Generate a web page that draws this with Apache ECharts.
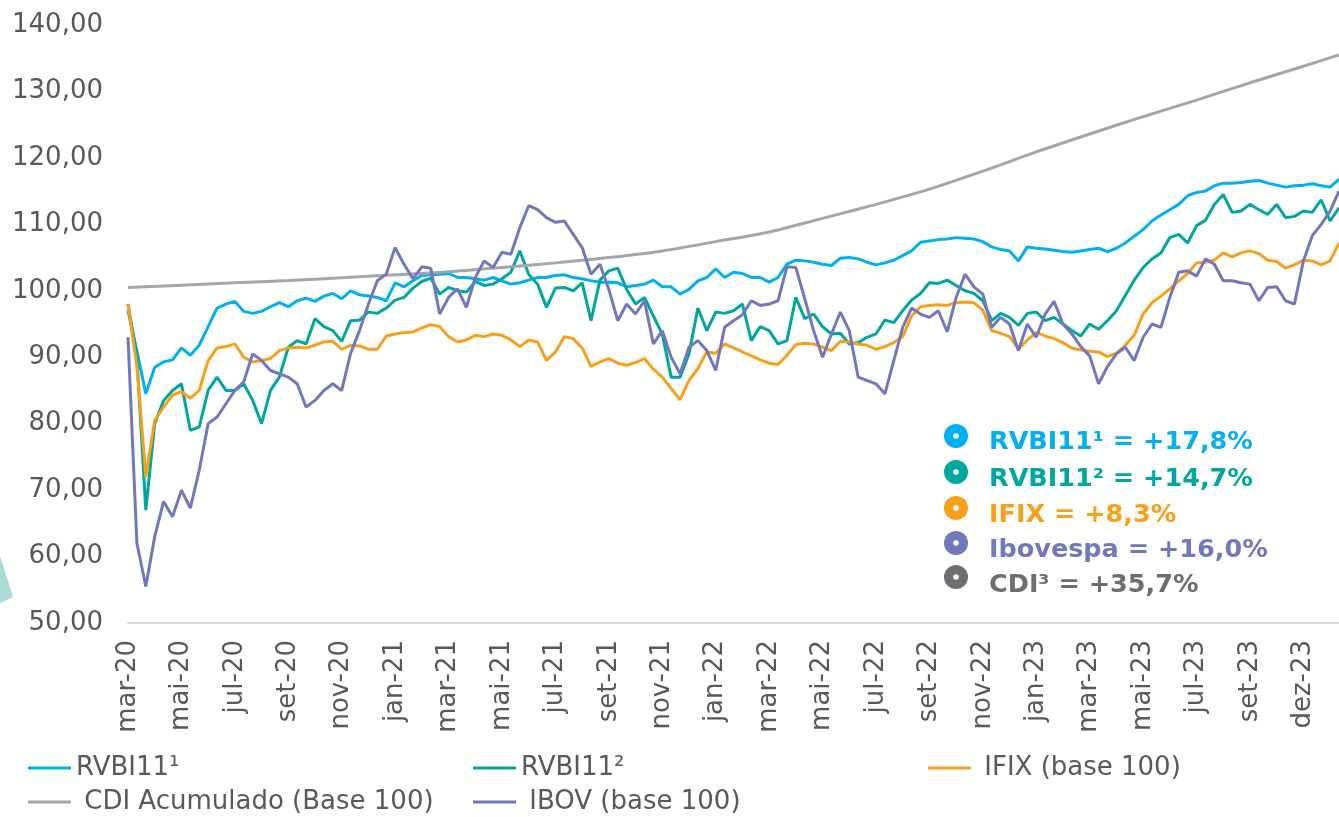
<!DOCTYPE html>
<html>
<head>
<meta charset="utf-8">
<title>RVBI11 x benchmarks</title>
<script src="https://cdn.jsdelivr.net/npm/echarts@6/dist/echarts.min.js"></script>
<style>
  html, body { margin: 0; padding: 0; background: #fff; }
  #chart { width: 1339px; height: 817px; }
</style>
</head>
<body>
<div id="chart"></div>
<script>
// x-axis tick labels, one every 6 points (about 2 months)
const tickLabels = ['mar-20', 'mai-20', 'jul-20', 'set-20', 'nov-20', 'jan-21', 'mar-21', 'mai-21',
  'jul-21', 'set-21', 'nov-21', 'jan-22', 'mar-22', 'mai-22', 'jul-22', 'set-22', 'nov-22',
  'jan-23', 'mar-23', 'mai-23', 'jul-23', 'set-23', 'dez-23']
const perTick = 6

// values, base 100
const rvbi1 = [
  97, 91, 84.5, 88.5, 89.3, 89.6, 91.4, 90.3, 91.8, 94.6,
  97.4, 98, 98.4, 96.9, 96.6, 96.9, 97.6, 98.2, 97.6, 98.5,
  98.9, 98.4, 99.2, 99.6, 98.8, 100, 99.4, 99.2, 99, 98.5,
  101.2, 100.6, 101.5, 102.3, 102.4, 102.5, 102.6, 102, 102, 101.8,
  101.6, 102, 101.5, 101, 101.2, 101.6, 102, 102, 102.3, 102.4,
  102, 101.8, 101.5, 101.3, 101.3, 101.2, 100.6, 100.8, 101, 101.6,
  100.6, 100.6, 99.5, 100.2, 101.5, 102, 103.3, 102, 102.8, 102.6,
  102, 102, 101.3, 102, 104, 104.6, 104.5, 104.3, 104, 103.8,
  104.9, 105, 104.8, 104.3, 103.9, 104.2, 104.6, 105.3, 106, 107.3,
  107.5, 107.7, 107.8, 108, 107.9, 107.8, 107.4, 106.6, 106.2, 106,
  104.5, 106.6, 106.4, 106.3, 106.1, 105.9, 105.8, 106, 106.2, 106.4,
  105.9, 106.4, 107.2, 108.2, 109.2, 110.5, 111.4, 112.2, 113, 114.3,
  114.8, 115, 115.8, 116.2, 116.2, 116.3, 116.5, 116.6, 116.2, 115.9,
  115.6, 115.8, 115.9, 116.1, 115.8, 115.6, 116.8
]
const rvbi2 = [
  98, 90, 67, 80, 83.5, 85, 86, 79, 79.5, 85,
  87, 85, 85, 86, 83.5, 80, 85, 87, 91.5, 92.5,
  92, 95.8, 94.6, 94, 92.4, 95.5, 95.6, 96.8, 96.6, 97.4,
  98.6, 99, 100.4, 101.4, 101.9, 99.5, 100.5, 100, 99.8, 101.4,
  100.8, 101, 101.8, 102.8, 106, 102.5, 101, 97.5, 100.4, 100.5,
  100, 101.2, 95.5, 101.6, 103, 103.4, 100.2, 98, 99, 96.2,
  93.5, 87, 87, 90.5, 97.4, 94, 96.8, 96.6, 97, 98,
  92.5, 94.6, 94, 92, 92.5, 99, 95.8, 96.5, 94.6, 93.5,
  93.6, 92, 92.2, 93, 93.5, 95.6, 95.2, 97, 98.6, 99.6,
  101.2, 101.1, 101.6, 100.8, 100, 99.6, 98.5, 95.5, 96.6, 96,
  94.8, 96.6, 96.8, 95.5, 96, 95, 94, 93.2, 95, 94.2,
  95.5, 97, 99.3, 101.6, 103.5, 104.8, 105.7, 108, 108.5, 107.2,
  109.8, 110.6, 113, 114.5, 111.8, 112, 113, 112.2, 111.5, 113,
  111, 111.2, 112, 111.8, 113.7, 110.5, 112.5
]
const ifix = [
  98, 88.6, 72, 80.5, 82.5, 84.3, 84.8, 83.8, 85, 89.5,
  91.4, 91.6, 92, 90, 89.3, 89.5, 89.8, 91, 91.4, 91.5,
  91.4, 91.8, 92.3, 92.4, 91.2, 91.8, 91.7, 91.2, 91.2, 93.2,
  93.5, 93.7, 93.8, 94.4, 94.9, 94.6, 93.1, 92.3, 92.6, 93.3,
  93.1, 93.5, 93.3, 92.6, 91.6, 92.6, 92.3, 89.5, 90.8, 93.1,
  92.8, 91.4, 88.6, 89.3, 89.8, 89.1, 88.8, 89.2, 89.8, 88.2,
  87, 85.3, 83.6, 86.5, 88.3, 90.8, 90.6, 92, 91.4, 90.8,
  90.2, 89.6, 89.1, 88.9, 90.3, 91.9, 92.1, 92, 91.5, 91,
  92.4, 92.3, 92, 91.8, 91.2, 91.6, 92.2, 93.1, 96.2, 97.6,
  97.8, 97.9, 97.8, 98.2, 98.3, 98.2, 97.1, 94, 93.6, 93.1,
  91.2, 92.6, 93.7, 93.2, 92.8, 92.2, 91.4, 91.1, 90.9, 90.8,
  90.1, 90.6, 91.8, 93.3, 96.5, 98.2, 99.2, 100.3, 101.5, 102.6,
  104.2, 104.3, 104.6, 105.7, 105.1, 105.7, 106, 105.6, 104.6, 104.4,
  103.4, 103.9, 104.6, 104.5, 103.9, 104.5, 107.2
]
const ibov = [
  93, 62, 55.5, 63, 68.3, 66, 70, 67.3, 73, 80,
  81, 83, 85, 86.3, 90.5, 89.5, 88, 87.5, 87, 86,
  82.5, 83.5, 85, 86, 85, 90.6, 94, 98, 101.5, 102.5,
  106.5, 104, 101.8, 103.6, 103.4, 96.5, 99, 100.3, 97.5, 102,
  104.5, 103.5, 105.8, 105.5, 109.5, 112.8, 112.2, 111, 110.3, 110.5,
  108.5, 106.5, 102.5, 104, 100.2, 95.5, 98, 96.5, 98.5, 92,
  94, 90, 87.5, 91.5, 92.5, 91, 88, 94.5, 95.5, 96.4,
  98.5, 97.8, 98, 98.5, 103.6, 103.5, 98.8, 94, 90, 93.5,
  96.8, 94, 87, 86.5, 86, 84.5, 89.5, 94.5, 97.4, 96.5,
  96, 97, 93.8, 99, 102.5, 100.6, 99.5, 94.5, 96, 95,
  91, 95, 93, 96.5, 98.4, 95, 93.5, 91.6, 90.2, 86,
  88.6, 90.5, 91.5, 89.5, 93, 95, 94.5, 99, 102.8, 103,
  102.2, 104.8, 104, 101.5, 101.5, 101.2, 101, 98.5, 100.5, 100.6,
  98.5, 98, 104.5, 108.3, 110, 112, 115
]
// CDI is a smooth curve: read at each tick and at the last point
const cdiIdx = [0, 6, 12, 18, 24, 30, 36, 42, 48, 54, 60, 66, 72, 78, 84, 90, 96, 102, 108, 114, 120, 126, 132, 136]
const cdi = [100.5, 100.85, 101.2, 101.55, 101.95, 102.4, 102.85, 103.5, 104.2, 105.0, 106.0, 107.4,
  108.85, 110.9, 113.0, 115.3, 118.0, 120.9, 123.6, 126.2, 128.7, 131.3, 133.8, 135.5]

const notes = ['RVBI11¹ = +17,8%', 'RVBI11² = +14,7%', 'IFIX = +8,3%', 'Ibovespa = +16,0%', 'CDI³ = +35,7%']

const C_RVBI1 = '#00B0F0'
const C_RVBI2 = '#00A79D'
const C_IFIX = '#F7A11A'
const C_IBOV = '#7378BD'
const C_CDI = '#A6A6A6'
const noteColors = [C_RVBI1, C_RVBI2, C_IFIX, C_IBOV, '#6D6E71']
const FONT = '"DejaVu Sans", Verdana, sans-serif'
const TXT = '#595959'

const cats = rvbi1.map((_, i) => String(i))
const cdiData = cats.map(() => null)
cdiIdx.forEach((k, j) => { cdiData[k] = cdi[j] })

function lineSeries(name, data, color, extra) {
  return Object.assign({
    name,
    type: 'line',
    data,
    symbol: 'none',
    showSymbol: false,
    lineStyle: { width: 3, color },
    itemStyle: { color },
  }, extra || {})
}

function legendAt(name, left, top, lead) {
  return {
    data: [name],
    left, top,
    padding: 0,
    icon: 'rect',
    itemWidth: 43,
    itemHeight: 3,
    formatter: (n) => (lead ? ' ' : '') + n,
    textStyle: { color: TXT, fontSize: 26, fontFamily: FONT, lineHeight: 30 },
  }
}

// annotation box: coloured rings + bold text
const graphics = [
  {
    type: 'polygon',
    shape: { points: [[0, 556], [13, 597], [0, 603]] },
    style: { fill: '#A9DCD7' },
  },
]
const ringY = [436, 472, 508, 543, 577]
const textY = [442, 479, 515, 550, 585]
notes.forEach((t, i) => {
  graphics.push({ type: 'circle', shape: { cx: 956, cy: ringY[i], r: 12 }, style: { fill: noteColors[i] } })
  graphics.push({ type: 'circle', shape: { cx: 956, cy: ringY[i], r: 2.8 }, style: { fill: '#fff' } })
  graphics.push({
    type: 'text',
    style: {
      text: t, x: 989, y: textY[i],
      fill: noteColors[i],
      font: 'bold 25.5px ' + FONT,
      align: 'left', verticalAlign: 'middle',
      textAlign: 'left', textVerticalAlign: 'middle',
    },
  })
})

const chart = echarts.init(document.getElementById('chart'))
chart.setOption({
  animation: false,
  backgroundColor: '#fff',
  grid: { left: 128, right: 0, top: 25, bottom: 194 },
  xAxis: {
    type: 'category',
    data: cats,
    boundaryGap: false,
    axisLine: { lineStyle: { color: '#D9D9D9', width: 2 } },
    axisTick: { show: false },
    splitLine: { show: false },
    axisLabel: {
      interval: (idx) => idx % perTick === 0,
      formatter: (v, idx) => tickLabels[idx / perTick] || '',
      rotate: 90,
      margin: 17,
      color: TXT,
      fontSize: 26,
      fontFamily: FONT,
    },
  },
  yAxis: {
    type: 'value',
    min: 50,
    max: 140,
    interval: 10,
    axisLine: { show: false },
    axisTick: { show: false },
    splitLine: { show: false },
    axisLabel: {
      margin: 25,
      color: TXT,
      fontSize: 26,
      fontFamily: FONT,
      formatter: (v) => v.toFixed(2).replace('.', ','),
    },
  },
  legend: [
    legendAt('RVBI11¹', 28, 753, false),
    legendAt('RVBI11²', 473, 753, false),
    legendAt('IFIX (base 100)', 928, 753, true),
    legendAt('CDI Acumulado (Base 100)', 28, 787, true),
    legendAt('IBOV (base 100)', 473, 787, true),
  ],
  series: [
    lineSeries('RVBI11¹', rvbi1, C_RVBI1),
    lineSeries('RVBI11²', rvbi2, C_RVBI2),
    lineSeries('IFIX (base 100)', ifix, C_IFIX),
    lineSeries('CDI Acumulado (Base 100)', cdiData, C_CDI, { connectNulls: true, smooth: 0.3 }),
    lineSeries('IBOV (base 100)', ibov, C_IBOV),
  ],
  graphic: graphics,
})
</script>
</body>
</html>
